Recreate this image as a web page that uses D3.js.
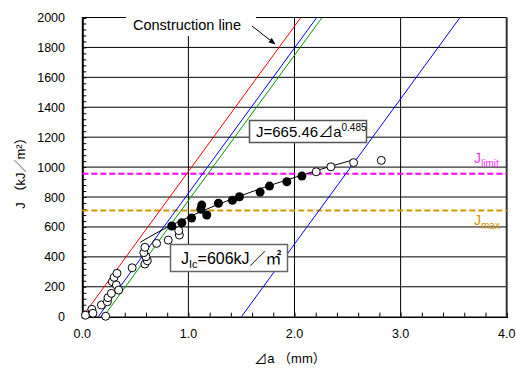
<!DOCTYPE html>
<html>
<head>
<meta charset="utf-8">
<script src="https://cdn.jsdelivr.net/npm/d3@7"></script>
<style>
  html, body { margin: 0; padding: 0; background: #fff; }
  svg { display: block; }
  text { font-family: "Liberation Sans", Arial, "Noto Sans CJK JP", sans-serif; }
</style>
</head>
<body>
<svg id="chart" width="516" height="369"></svg>
<script>
// ---- data ----
const xTicks = [0, 1, 2, 3, 4];
const xTickLabels = ["0.0", "1.0", "2.0", "3.0", "4.0"];
const yTicks = [0, 200, 400, 600, 800, 1000, 1200, 1400, 1600, 1800, 2000];
const yTickLabels = ["0", "200", "400", "600", "800", "1000", "1200", "1400", "1600", "1800", "2000"];

// open circles (outside the valid region)
const openDa = [0.03, 0.09, 0.10, 0.18, 0.22, 0.236, 0.242, 0.274, 0.283, 0.30, 0.327, 0.321, 0.343,
                0.47, 0.59, 0.613, 0.60, 0.58, 0.59, 0.70, 0.81, 0.915, 0.909,
                2.205, 2.343, 2.557, 2.818];
const openJ  = [10, 49, 23, 78, 3, 100, 127, 156, 234, 263, 290, 212, 178,
                327, 352, 374, 401, 428, 464, 490, 512, 546, 575,
                969, 1002, 1030, 1045];
// filled circles (valid data)
const fillDa = [0.843, 0.938, 1.03, 1.117, 1.126, 1.173, 1.283, 1.415, 1.481, 1.676, 1.764, 1.928, 2.07];
const fillJ  = [606, 628, 660, 718, 746, 680, 758, 778, 802, 833, 873, 902, 940];

// power-law fit curve J=665.46 Δa^0.485
const fitDa = [0.546, 0.7, 0.85, 1.0, 1.25, 1.5, 1.75, 2.0, 2.25, 2.557];
const fitJ  = [497, 560, 615, 665, 742, 810, 873, 930, 986, 1049];

// construction / offset lines (start and end points)
const lineNames = ["construction", "offset015", "offset02", "offset15"];
const lineColors = ["#ff0000", "#0000ff", "#009900", "#0000ff"];
const lineDa0 = [0, 0.15, 0.20, 1.50];
const lineDa1 = [2.06, 2.21, 2.26, 3.56];
const lineJ0 = [0, 0, 0, 0];
const lineJ1 = [2000, 2000, 2000, 2000];

const jLimit = 955;
const jMax = 710;

// ---- chart ----
const svg = d3.select("#chart");
const x = d3.scaleLinear().domain([0, 4]).range([82.3, 506.7]);
const y = d3.scaleLinear().domain([0, 2000]).range([316.7, 17.5]);

svg.append("defs").append("clipPath").attr("id", "plotclip")
  .append("rect").attr("x", x(0)).attr("y", y(2000)).attr("width", x(4) - x(0)).attr("height", y(0) - y(2000));
const marker = svg.select("defs").append("marker").attr("id", "arrow")
  .attr("viewBox", "0 0 10 10").attr("refX", 9).attr("refY", 5)
  .attr("markerWidth", 7).attr("markerHeight", 7).attr("orient", "auto");
marker.append("path").attr("d", "M0,1 L10,5 L0,9 Z").attr("fill", "#000");

// grid
const grid = svg.append("g");
grid.selectAll("line.h").data(yTicks.slice(1)).join("line")
  .attr("x1", x(0)).attr("x2", x(4)).attr("y1", d => y(d)).attr("y2", d => y(d))
  .attr("stroke", "#000").attr("stroke-width", 1);
grid.selectAll("line.v").data(xTicks.slice(1, 4)).join("line")
  .attr("x1", d => x(d)).attr("x2", d => x(d)).attr("y1", y(0)).attr("y2", y(2000))
  .attr("stroke", "#000").attr("stroke-width", 1);

// axes
const xAxis = d3.axisBottom(x).tickValues(d3.range(0, 4.001, 0.2)).tickSize(-4).tickFormat("");
const gx = svg.append("g").attr("transform", `translate(0,${y(0)})`).call(xAxis);
gx.select(".domain").attr("stroke", "#000").attr("stroke-width", 1.5);
gx.selectAll(".tick line").attr("stroke", "#000");
const yAxis = d3.axisLeft(y).tickValues(d3.range(0, 2001, 40)).tickSize(-4).tickFormat("");
const gy = svg.append("g").attr("transform", `translate(${x(0)},0)`).call(yAxis);
gy.select(".domain").attr("stroke", "#000").attr("stroke-width", 2);
gy.selectAll(".tick line").attr("stroke", "#000");
// right border
svg.append("line").attr("x1", x(4)).attr("x2", x(4)).attr("y1", y(0)).attr("y2", y(2000))
  .attr("stroke", "#333").attr("stroke-width", 2);

// tick labels
svg.append("g").selectAll("text").data(xTicks).join("text")
  .attr("x", d => x(d)).attr("y", 338).attr("text-anchor", "middle")
  .attr("font-size", 12.5).attr("fill", "#000").text((d, i) => xTickLabels[i]);
svg.append("g").selectAll("text").data(yTicks).join("text")
  .attr("x", 65).attr("y", d => y(d) + 4.5).attr("text-anchor", "end")
  .attr("font-size", 12.5).attr("fill", "#000").text((d, i) => yTickLabels[i]);

// axis titles
svg.append("text").attr("x", 290).attr("y", 363).attr("text-anchor", "middle")
  .attr("font-size", 13).text("⊿a （mm）");
svg.append("text").attr("transform", "translate(25,170) rotate(-90)").attr("text-anchor", "middle")
  .attr("font-size", 13).text("J （kJ／m²）");

// dashed horizontal lines
svg.append("line").attr("x1", x(0)).attr("x2", x(4)).attr("y1", y(jLimit)).attr("y2", y(jLimit))
  .attr("stroke", "#ff00ff").attr("stroke-width", 2).attr("stroke-dasharray", "6,3");
svg.append("line").attr("x1", x(0)).attr("x2", x(4)).attr("y1", y(jMax)).attr("y2", y(jMax))
  .attr("stroke", "#cc9900").attr("stroke-width", 2).attr("stroke-dasharray", "6,3");

// construction lines
const lines = svg.append("g").attr("clip-path", "url(#plotclip)");
lines.selectAll("line").data(lineNames).join("line")
  .attr("x1", (d, i) => x(lineDa0[i])).attr("y1", (d, i) => y(lineJ0[i]))
  .attr("x2", (d, i) => x(lineDa1[i])).attr("y2", (d, i) => y(lineJ1[i]))
  .attr("stroke", (d, i) => lineColors[i]).attr("stroke-width", 1);

// fit curve
const fitPts = fitDa.map((d, i) => [d, fitJ[i]]);
svg.append("path").datum(fitPts)
  .attr("d", d3.line().x(d => x(d[0])).y(d => y(d[1])).curve(d3.curveMonotoneX))
  .attr("fill", "none").attr("stroke", "#000").attr("stroke-width", 1);

// points
svg.append("g").selectAll("circle").data(openDa).join("circle")
  .attr("cx", d => x(d)).attr("cy", (d, i) => y(openJ[i])).attr("r", 4)
  .attr("fill", "#fff").attr("stroke", "#000").attr("stroke-width", 1);
svg.append("g").selectAll("circle").data(fillDa).join("circle")
  .attr("cx", d => x(d)).attr("cy", (d, i) => y(fillJ[i])).attr("r", 4.5)
  .attr("fill", "#000");

// Construction line label (white box covering top border)
svg.append("rect").attr("x", 126).attr("y", 8).attr("width", 130).attr("height", 28).attr("fill", "#fff");
svg.append("text").attr("x", 133).attr("y", 30).attr("font-size", 14.5).text("Construction line");
svg.append("line").attr("x1", 252).attr("y1", 26).attr("x2", 275).attr("y2", 44)
  .attr("stroke", "#000").attr("stroke-width", 1).attr("marker-end", "url(#arrow)");

// equation box
svg.append("rect").attr("x", 249.5).attr("y", 120.5).attr("width", 117).attr("height", 22)
  .attr("fill", "#fff").attr("stroke", "#555").attr("stroke-width", 1.5);
const eq = svg.append("text").attr("x", 256).attr("y", 137).attr("font-size", 15);
eq.append("tspan").text("J=665.46⊿a");
eq.append("tspan").attr("dy", -6).attr("font-size", 10).text("0.485");

// J_Ic box
svg.append("rect").attr("x", 170.5).attr("y", 244.5).attr("width", 117).attr("height", 27)
  .attr("fill", "#fff").attr("stroke", "#666").attr("stroke-width", 1.5);
const jic = svg.append("text").attr("x", 181).attr("y", 264).attr("font-size", 16);
jic.append("tspan").text("J");
jic.append("tspan").attr("dy", 4).attr("font-size", 11).text("Ic");
jic.append("tspan").attr("dy", -4).text("=606kJ／㎡");

// J_limit and J_max labels
const jl = svg.append("text").attr("x", 474).attr("y", 163).attr("font-size", 14).attr("fill", "#ff33ff");
jl.append("tspan").text("J");
jl.append("tspan").attr("dy", 4).attr("font-size", 10).text("limit");
const jm = svg.append("text").attr("x", 474).attr("y", 225).attr("font-size", 14).attr("fill", "#cc9900");
jm.append("tspan").text("J");
jm.append("tspan").attr("dy", 4).attr("font-size", 10).text("max");
</script>
</body>
</html>
